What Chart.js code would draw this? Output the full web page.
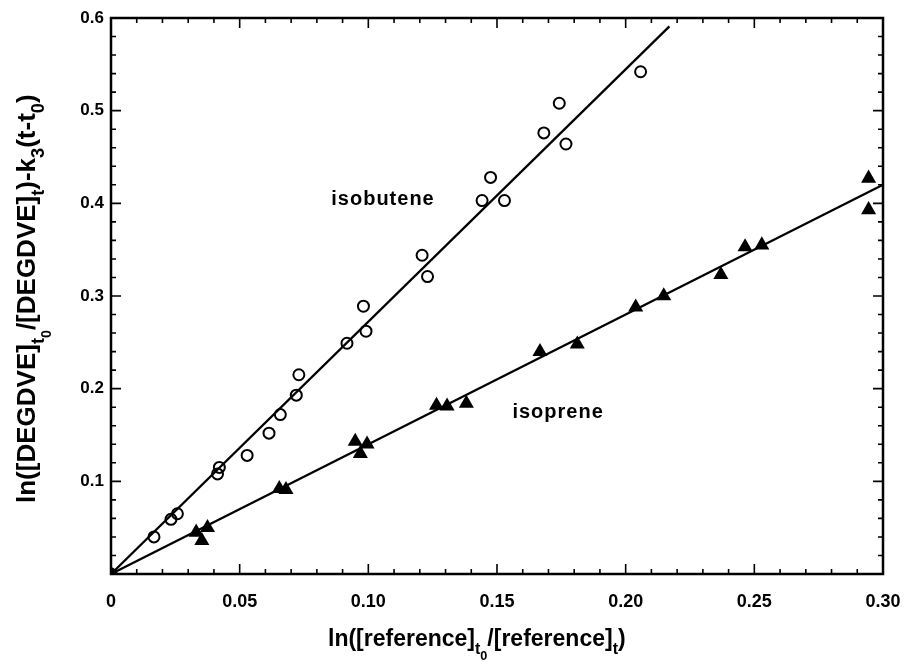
<!DOCTYPE html>
<html>
<head>
<meta charset="utf-8">
<script src="https://cdn.jsdelivr.net/npm/chart.js@4.4.0/dist/chart.umd.min.js"></script>
<style>
  body { margin: 0; background: #fff; }
</style>
</head>
<body>
<canvas id="chart" width="909" height="662"></canvas>
<script>
const isobuteneX = [0, 0.0167, 0.0233, 0.0258, 0.0414, 0.0421, 0.0529, 0.0614, 0.0658, 0.0720, 0.0730, 0.0917, 0.0981, 0.0991, 0.1209, 0.1230, 0.1442, 0.1475, 0.1529, 0.1682, 0.1742, 0.1768, 0.2058];
const isobuteneY = [0, 0.040, 0.059, 0.065, 0.108, 0.115, 0.128, 0.152, 0.172, 0.193, 0.215, 0.249, 0.289, 0.262, 0.344, 0.321, 0.403, 0.428, 0.403, 0.476, 0.508, 0.464, 0.542];
const isopreneX = [0, 0.0331, 0.0353, 0.0375, 0.0654, 0.0680, 0.0949, 0.0969, 0.0995, 0.1265, 0.1306, 0.1381, 0.1667, 0.1812, 0.2039, 0.2148, 0.2370, 0.2464, 0.2529, 0.2944, 0.2944];
const isopreneY = [0, 0.045, 0.036, 0.050, 0.092, 0.091, 0.143, 0.130, 0.140, 0.182, 0.181, 0.184, 0.240, 0.248, 0.288, 0.300, 0.323, 0.353, 0.355, 0.427, 0.393];

// fitted lines
const isobuteneFitX = [0, 0.217];
const isobuteneFitY = [0, 0.591];
const isopreneFitX = [0, 0.30];
const isopreneFitY = [0, 0.42];

const xTickLabels = ['0', '0.05', '0.10', '0.15', '0.20', '0.25', '0.30'];
const yTickLabels = ['', '0.1', '0.2', '0.3', '0.4', '0.5', '0.6'];

const FONT = '"Liberation Sans", Arial, sans-serif';

const toPoints = (xs, ys) => xs.map((x, i) => ({ x, y: ys[i] }));

function drawRich(ctx, parts, size) {
  let pos = 0;
  parts.forEach(([text, level]) => {
    const s = [size, size * 0.7, size * 0.55][level];
    const dy = [0, size * 0.33, size * 0.62][level];
    ctx.font = `bold ${s}px ${FONT}`;
    ctx.fillText(text, pos, dy);
    pos += ctx.measureText(text).width;
  });
}

// box with inward ticks on all four sides
const framePlugin = {
  id: 'frame',
  afterDraw(chart) {
    const { ctx, chartArea: a, scales: { x, y } } = chart;
    ctx.save();
    ctx.strokeStyle = '#000';
    ctx.lineWidth = 2.5;
    ctx.strokeRect(a.left, a.top, a.right - a.left, a.bottom - a.top);
    ctx.lineWidth = 1.6;
    ctx.beginPath();
    for (let i = 1; i < 30; i++) {
      const px = x.getPixelForValue(i / 100);
      const len = i % 5 === 0 ? 10 : 5;
      ctx.moveTo(px, a.bottom); ctx.lineTo(px, a.bottom - len);
      ctx.moveTo(px, a.top); ctx.lineTo(px, a.top + len);
    }
    for (let i = 1; i < 30; i++) {
      const py = y.getPixelForValue(i * 0.02);
      const len = i % 5 === 0 ? 10 : 5;
      ctx.moveTo(a.left, py); ctx.lineTo(a.left + len, py);
      ctx.moveTo(a.right, py); ctx.lineTo(a.right - len, py);
    }
    ctx.stroke();

    // axis titles with subscripts
    ctx.fillStyle = '#000';
    ctx.textBaseline = 'alphabetic';
    ctx.textAlign = 'left';
    ctx.save();
    ctx.translate(328, 646);
    drawRich(ctx, [['ln([reference]', 0], ['t', 1], ['0', 2], ['/[reference]', 0], ['t', 1], [')', 0]], 23);
    ctx.restore();

    ctx.save();
    ctx.translate(35, 503);
    ctx.rotate(-Math.PI / 2);
    drawRich(ctx, [['ln([DEGDVE]', 0], ['t', 1], ['0', 2], ['/[DEGDVE]', 0], ['t', 1], [')-k', 0], ['3', 1],
      ['(t-t', 0], ['0', 1], [')', 0]], 26);
    ctx.restore();

    // series labels
    ctx.font = `bold 20px ${FONT}`;
    ctx.letterSpacing = '1px';
    ctx.textBaseline = 'middle';
    ctx.fillText('isobutene', x.getPixelForValue(0.0856), y.getPixelForValue(0.404));
    ctx.fillText('isoprene', x.getPixelForValue(0.156), y.getPixelForValue(0.174));
    ctx.restore();
  }
};

new Chart(document.getElementById('chart'), {
  type: 'scatter',
  data: {
    datasets: [
      { type: 'line', data: toPoints(isobuteneFitX, isobuteneFitY), borderColor: '#000', borderWidth: 2.3, pointRadius: 0, fill: false },
      { type: 'line', data: toPoints(isopreneFitX, isopreneFitY), borderColor: '#000', borderWidth: 2.3, pointRadius: 0, fill: false },
      { label: 'isobutene', data: toPoints(isobuteneX, isobuteneY), pointStyle: 'circle', pointRadius: 5.5,
        pointBackgroundColor: 'rgba(255,255,255,0)', pointBorderColor: '#000', pointBorderWidth: 2 },
      { label: 'isoprene', data: toPoints(isopreneX, isopreneY), pointStyle: 'triangle', pointRadius: 8.7,
        pointBackgroundColor: '#000', pointBorderColor: '#000', pointBorderWidth: 0 }
    ]
  },
  options: {
    responsive: false,
    animation: false,
    layout: { padding: { top: 18, right: 26, left: 0, bottom: 0 } },
    plugins: { legend: { display: false }, tooltip: { enabled: false } },
    scales: {
      x: {
        type: 'linear', min: 0, max: 0.3,
        grid: { display: false, drawTicks: false },
        border: { display: false },
        ticks: { stepSize: 0.05, color: '#000', padding: 17, maxRotation: 0,
          font: { family: FONT, size: 18, weight: 'bold' },
          callback: (v, i) => xTickLabels[i] },
        afterFit: (s) => { s.height = 88; s.paddingLeft = 0; s.paddingRight = 0; }
      },
      y: {
        type: 'linear', min: 0, max: 0.6,
        grid: { display: false, drawTicks: false },
        border: { display: false },
        ticks: { stepSize: 0.1, color: '#000', padding: 7,
          font: { family: FONT, size: 17, weight: 'bold' },
          callback: (v, i) => yTickLabels[i] },
        afterFit: (s) => { s.width = 111; s.paddingTop = 0; s.paddingBottom = 0; }
      }
    }
  },
  plugins: [framePlugin]
});
</script>
</body>
</html>
